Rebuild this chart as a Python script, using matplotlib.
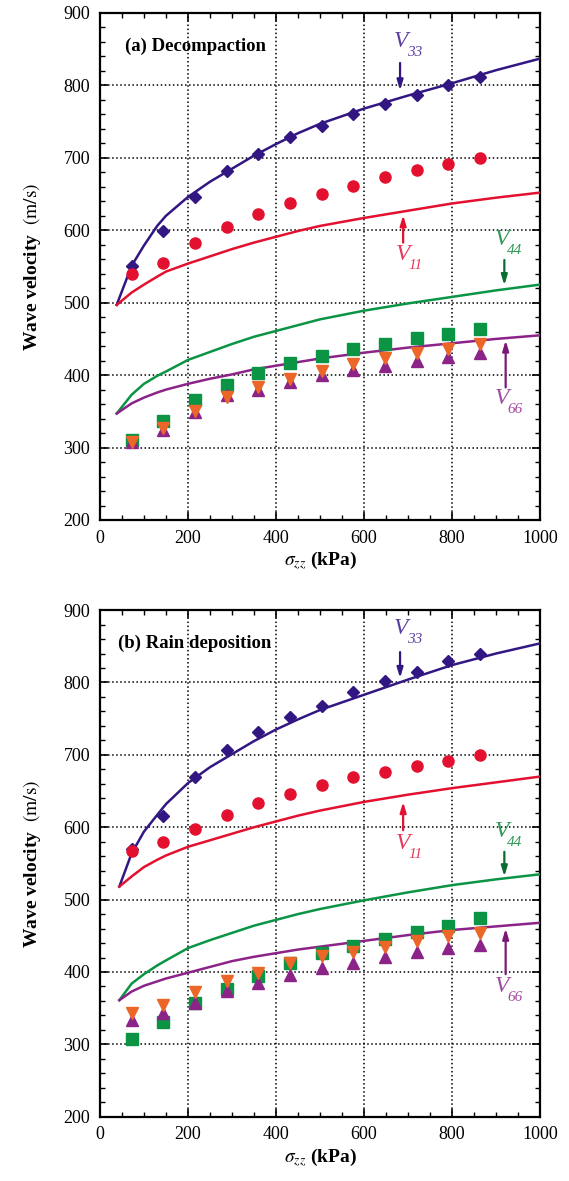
import matplotlib.pyplot as plt
from matplotlib.ticker import MultipleLocator

plt.rcParams['font.family'] = ['Liberation Serif', 'DejaVu Serif']
plt.rcParams['mathtext.fontset'] = 'stix'

# measured stress levels (kPa)
sigma = [72, 144, 216, 288, 360, 432, 504, 576, 648, 720, 792, 864]

# (a) Decompaction - measured
a_v33 = [551, 599, 646, 682, 705, 729, 744, 760, 774, 787, 800, 811]
a_v11 = [540, 555, 582, 604, 623, 637, 650, 661, 674, 683, 692, 700]
a_v44 = [311, 337, 365, 387, 403, 417, 427, 436, 443, 451, 457, 464]
a_vdn = [307, 327, 351, 370, 383, 395, 406, 415, 423, 430, 436, 443]
a_v66 = [308, 324, 349, 372, 379, 391, 400, 407, 413, 419, 425, 430]

# (a) model curves
a_xc = [38, 72, 100, 130, 150, 200, 250, 300, 350, 400, 450, 500, 600, 700, 800, 900, 1000]
a_c33 = [497, 551, 579, 606, 620, 646, 667, 685, 703, 719, 734, 747, 768, 786, 803, 821, 837]
a_c11 = [497, 514, 525, 536, 543, 554, 564, 574, 583, 591, 599, 606, 617, 627, 637, 645, 652]
a_c44 = [347, 373, 388, 399, 405, 421, 432, 443, 453, 461, 469, 477, 489, 499, 508, 517, 525]
a_c66 = [347, 361, 369, 376, 380, 388, 395, 401, 408, 413, 418, 423, 431, 438, 444, 450, 455]

# (b) Rain deposition - measured
b_v33 = [570, 615, 670, 707, 731, 753, 767, 787, 802, 815, 829, 840]
b_v11 = [567, 579, 597, 617, 634, 646, 658, 669, 677, 684, 692, 700]
b_v44 = [307, 331, 357, 376, 394, 413, 426, 436, 445, 455, 463, 474]
b_vdn = [343, 355, 373, 388, 398, 412, 422, 428, 435, 443, 450, 454]
b_v66 = [333, 343, 357, 374, 385, 396, 405, 413, 421, 427, 433, 437]

# (b) model curves
b_xc = [44, 72, 100, 130, 150, 200, 250, 300, 350, 400, 450, 500, 600, 700, 800, 900, 1000]
b_c33 = [518, 564, 594, 617, 632, 661, 683, 701, 719, 735, 749, 762, 783, 804, 824, 840, 854]
b_c11 = [518, 532, 545, 555, 561, 573, 582, 591, 600, 608, 616, 623, 635, 645, 654, 662, 670]
b_c44 = [361, 384, 397, 409, 416, 433, 444, 454, 464, 472, 480, 487, 499, 510, 520, 528, 535]
b_c66 = [361, 373, 381, 387, 391, 399, 407, 415, 421, 426, 431, 435, 443, 451, 458, 463, 468]

C33, C11, C44, C66, CDN = '#321782', '#e3112f', '#0a9444', '#8c2388', '#ec6628'

fig = plt.figure(figsize=(5.69, 11.81), dpi=100)
ax_a = fig.add_axes([0.1757, 0.5597, 0.7733, 0.4293])
ax_b = fig.add_axes([0.1757, 0.0544, 0.7733, 0.4290])


def vlabel(ax, x, y, sub, col):
    ax.text(x, y, 'V', fontsize=17, style='italic', color=col, ha='center', va='center')
    ax.text(x + 13, y - 15, sub, fontsize=11, style='italic', color=col, ha='left', va='center')


def arrow(ax, x, y0, y1, col):
    ax.annotate('', xy=(x, y1), xytext=(x, y0),
                arrowprops=dict(arrowstyle='-|>,head_length=0.6,head_width=0.18',
                                color=col, lw=1.6, shrinkA=0, shrinkB=0))


def panel(ax, xc, c33, c11, c44, c66, v33, v11, v44, vdn, v66, title, tx, ann):
    ax.plot(xc, c33, color=C33, lw=1.8, zorder=3)
    ax.plot(xc, c11, color=C11, lw=1.8, zorder=3)
    ax.plot(xc, c44, color=C44, lw=1.8, zorder=3)
    ax.plot(xc, c66, color=C66, lw=1.8, zorder=3)
    ax.plot(sigma, v33, 'D', color=C33, ms=6.5, ls='none', zorder=4)
    ax.plot(sigma, v11, 'o', color=C11, ms=8, ls='none', zorder=4)
    ax.plot(sigma, v44, 's', color=C44, ms=8, ls='none', zorder=4)
    ax.plot(sigma, v66, '^', color=C66, ms=8, ls='none', zorder=5)
    ax.plot(sigma, vdn, 'v', color=CDN, ms=8, ls='none', zorder=6)

    ax.set_xlim(0, 1000)
    ax.set_ylim(200, 900)
    ax.xaxis.set_major_locator(MultipleLocator(200))
    ax.xaxis.set_minor_locator(MultipleLocator(50))
    ax.yaxis.set_major_locator(MultipleLocator(100))
    ax.yaxis.set_minor_locator(MultipleLocator(20))
    ax.tick_params(which='both', direction='in', top=True, right=True, labelsize=13, pad=7)
    ax.tick_params(which='major', length=6, width=1.2)
    ax.tick_params(which='minor', length=3.5, width=1.0)
    ax.grid(True, which='major', ls=':', color='black', lw=1.1)
    for s in ax.spines.values():
        s.set_linewidth(1.6)

    ax.text(tx, 854, title, fontsize=13.5, fontweight='bold', ha='left', va='center', zorder=7)
    ax.set_ylabel(r'Wave velocity  $\mathrm{(m/s)}$', fontsize=14, fontweight='bold', labelpad=15)
    ax.set_xlabel(r'$\sigma_{zz}$ (kPa)', fontsize=14, fontweight='bold', labelpad=2)

    # annotations: (label x, label y, arrow x, y0, y1)
    (l33, l11, l44, l66) = ann
    vlabel(ax, l33[0], l33[1], '33', '#5a3fa0')
    arrow(ax, l33[2], l33[3], l33[4], C33)
    vlabel(ax, l11[0], l11[1], '11', '#e8385a')
    arrow(ax, l11[2], l11[3], l11[4], C11)
    vlabel(ax, l44[0], l44[1], '44', '#2c9a55')
    arrow(ax, l44[2], l44[3], l44[4], '#0b6b30')
    vlabel(ax, l66[0], l66[1], '66', '#a04aa0')
    arrow(ax, l66[2], l66[3], l66[4], '#7a1a78')


panel(ax_a, a_xc, a_c33, a_c11, a_c44, a_c66, a_v33, a_v11, a_v44, a_vdn, a_v66,
      '(a) Decompaction', 57,
      [(684, 860, 682, 831, 793), (689, 566, 689, 583, 621),
       (913, 587, 919, 559, 524), (913, 368, 922, 383, 448)])
panel(ax_b, b_xc, b_c33, b_c11, b_c44, b_c66, b_v33, b_v11, b_v44, b_vdn, b_v66,
      '(b) Rain deposition', 42,
      [(684, 875, 682, 842, 806), (689, 578, 689, 596, 635),
       (913, 594, 919, 566, 532), (913, 380, 922, 397, 460)])

fig.savefig('out.png', dpi=100)
